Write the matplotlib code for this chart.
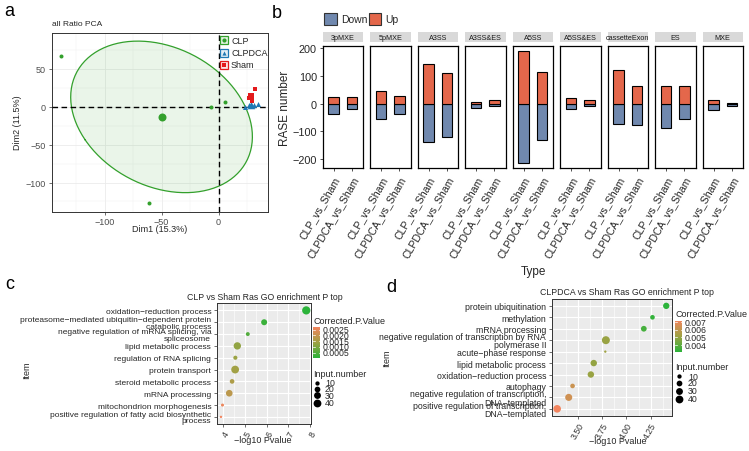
import numpy as np
import matplotlib
matplotlib.use("Agg")
import matplotlib.pyplot as plt
from matplotlib.patches import Rectangle, Polygon
from matplotlib.colors import LinearSegmentedColormap, Normalize
from matplotlib.ticker import FixedLocator

plt.rcParams['font.family'] = ['Liberation Sans', 'DejaVu Sans']

# ---------------- data ----------------
# Panel a: PCA
pca_groups = ["CLP", "CLPDCA", "Sham"]
clp_dim1 = [-138.0, -61.0, -6.4, 5.3]
clp_dim2 = [67.7, -127.5, 0.4, 6.2]
clpdca_dim1 = [23.0, 26.6, 31.0, 34.8]
clpdca_dim2 = [0.0, 2.2, 2.2, 3.5]
sham_dim1 = [31.9, 27.8, 26.6, 29.0]
sham_dim2 = [24.0, 15.4, 11.0, 8.0]
pca_xlabel = "Dim1 (15.3%)"
pca_ylabel = "Dim2 (11.5%)"

# Panel b: RASE numbers
ase_types = ["3pMXE", "5pMXE", "A3SS", "A3SS&ES", "A5SS", "A5SS&ES",
             "cassetteExon", "ES", "MXE"]
comparisons = ["CLP_vs_Sham", "CLPDCA_vs_Sham"]
up_clp = [23, 46, 144, 7, 189, 19, 120, 63, 14]
down_clp = [-39, -57, -137, -14, -213, -19, -75, -87, -24]
up_clpdca = [23, 29, 111, 14, 116, 12, 63, 63, 4]
down_clpdca = [-21, -39, -122, -7, -130, -10, -77, -54, -7]

# Panel c: CLP vs Sham GO
go_c_terms = ["oxidation\u2212reduction process",
              "proteasome\u2212mediated ubiquitin\u2212dependent protein\ncatabolic process",
              "negative regulation of mRNA splicing, via\nspliceosome",
              "lipid metabolic process",
              "regulation of RNA splicing",
              "protein transport",
              "steroid metabolic process",
              "mRNA processing",
              "mitochondrion morphogenesis",
              "positive regulation of fatty acid biosynthetic\nprocess"]
go_c_logp = [7.82, 5.89, 5.14, 4.66, 4.57, 4.56, 4.42, 4.29, 3.98, 3.91]
go_c_padj = [0.00002, 0.0002, 0.0005, 0.0012, 0.0013, 0.0014, 0.0016, 0.0018, 0.0026, 0.0027]
go_c_count = [45, 22, 8, 35, 9, 40, 12, 28, 4, 2]
go_c_xticks = [4, 5, 6, 7, 8]
go_c_cbar_ticks = [0.0005, 0.0010, 0.0015, 0.0020, 0.0025]

# Panel d: CLPDCA vs Sham GO
go_d_terms = ["protein ubiquitination",
              "methylation",
              "mRNA processing",
              "negative regulation of transcription by RNA\npolymerase II",
              "acute\u2212phase response",
              "lipid metabolic process",
              "oxidation\u2212reduction process",
              "autophagy",
              "negative regulation of transcription,\nDNA\u2212templated",
              "positive regulation of transcription,\nDNA\u2212templated"]
go_d_logp = [4.413, 4.27, 4.18, 3.786, 3.78, 3.66, 3.63, 3.44, 3.40, 3.28]
go_d_padj = [0.00304, 0.0032, 0.0035, 0.0050, 0.0051, 0.0049, 0.0050, 0.0062, 0.0063, 0.00721]
go_d_count = [25, 12, 20, 42, 2, 26, 26, 12, 32, 38]
go_d_xticks = [3.50, 3.75, 4.00, 4.25]
go_d_cbar_ticks = [0.004, 0.005, 0.006, 0.007]

size_breaks = [10, 20, 30, 40]

# ---------------- styles ----------------
W, H = 749, 452
col_clp, col_dca, col_sham = "#33A02C", "#1F78B4", "#E31A1C"
col_down, col_up = "#7088AE", "#E4674B"
go_cmap = LinearSegmentedColormap.from_list("go", ["#2BB33A", "#A0A244", "#F2845E"])
txt_dark = "#262626"

fig = plt.figure(figsize=(W / 100, H / 100), dpi=100)


def axpx(l, t, r, b, **kw):
    return fig.add_axes([l / W, 1 - b / H, (r - l) / W, (b - t) / H], **kw)


ov = fig.add_axes([0, 0, 1, 1], zorder=20)
ov.set_xlim(0, W)
ov.set_ylim(H, 0)
ov.axis('off')


def pt(px):
    return (np.asarray(px) * 0.72) ** 2


def expand(vals, f=0.05):
    lo, hi = min(vals), max(vals)
    p = (hi - lo) * f
    return lo - p, hi + p


# ---------------- panel letters ----------------
for lab, (x, y) in zip("abcd", [(9, 11), (277, 14), (10, 285), (391, 288)]):
    ov.text(x, y, lab, fontsize=13, ha='center', va='center', color='black')

# ---------------- panel a ----------------
axa = axpx(51.5, 34, 268, 212.5)
pts = np.array([clp_dim1, clp_dim2]).T
cen = pts.mean(axis=0)
cov = np.cov(pts.T)
vals, vecs = np.linalg.eigh(cov)
k = 1.22
tt = np.linspace(0, 2 * np.pi, 200)
circ = np.stack([np.cos(tt), np.sin(tt)])
ell = (vecs @ (np.sqrt(vals)[:, None] * k * circ)).T + cen
axa.add_patch(Polygon(ell, closed=True, facecolor=col_clp, alpha=0.10, edgecolor='none', zorder=1))
axa.plot(ell[:, 0], ell[:, 1], color=col_clp, lw=0.9, zorder=2)

all_x = clp_dim1 + clpdca_dim1 + sham_dim1 + list(ell[:, 0])
all_y = clp_dim2 + clpdca_dim2 + sham_dim2 + list(ell[:, 1])
axa.set_xlim(*expand(all_x))
axa.set_ylim(*expand(all_y))
axa.set_xticks([-100, -50, 0])
axa.set_yticks([-100, -50, 0, 50])
axa.xaxis.set_minor_locator(FixedLocator([-125, -75, -25, 25]))
axa.yaxis.set_minor_locator(FixedLocator([-125, -75, -25, 25, 75]))
axa.grid(which='major', color='#EBEBEB', lw=0.6)
axa.grid(which='minor', color='#F2F2F2', lw=0.35)
axa.set_axisbelow(True)
axa.tick_params(which='minor', length=0)
axa.tick_params(which='major', labelsize=6.5, labelcolor='#4D4D4D', length=2.5,
                width=0.5, color='#333333', pad=1.5)
for s in axa.spines.values():
    s.set_color('#333333')
    s.set_linewidth(0.7)
axa.axhline(0, color='black', ls=(0, (4, 2.5)), lw=1.0, zorder=3)
axa.axvline(0, color='black', ls=(0, (4, 2.5)), lw=1.0, zorder=3)

axa.scatter(clp_dim1, clp_dim2, s=pt(4), color=col_clp, lw=0, zorder=4)
axa.scatter([cen[0]], [cen[1]], s=pt(8), color=col_clp, lw=0, zorder=4)
axa.scatter(clpdca_dim1, clpdca_dim2, s=pt(5), marker='^', color=col_dca, lw=0, zorder=5)
axa.scatter([np.mean(clpdca_dim1)], [np.mean(clpdca_dim2)], s=pt(7.5), marker='^',
            color=col_dca, lw=0, zorder=5)
axa.scatter(sham_dim1, sham_dim2, s=pt(4.5), marker='s', color=col_sham, lw=0, zorder=6)
axa.scatter([np.mean(sham_dim1)], [np.mean(sham_dim2)], s=pt(6.5), marker='s',
            color=col_sham, lw=0, zorder=6)

ov.text(52, 24, "all Ratio PCA", fontsize=6, ha='left', va='center', color=txt_dark)
ov.text(160, 230, pca_xlabel, fontsize=6.5, ha='center', va='center', color=txt_dark)
ov.text(18, 123, pca_ylabel, fontsize=6.5, ha='center', va='center', rotation=90, color=txt_dark)

for i, (g, c, m) in enumerate(zip(pca_groups, [col_clp, col_dca, col_sham], ['o', '^', 's'])):
    yc = 41.3 + i * 12.3
    ov.add_patch(Rectangle((220, yc - 4), 8.3, 8, facecolor='white', edgecolor=c, lw=0.9))
    ov.add_patch(Rectangle((220, yc - 4), 8.3, 8, facecolor=c, alpha=0.12, edgecolor='none'))
    ov.scatter([224.2], [yc], s=pt(4.2), marker=m, color=c, lw=0)
    ov.text(231, yc, g, fontsize=6.5, ha='left', va='center', color=txt_dark)

# ---------------- panel b ----------------
b_left0, b_step, b_w, b_top, b_bot = 322.5, 47.5, 40.5, 46.7, 169.3
bvals = up_clp + down_clp + up_clpdca + down_clpdca
bylim = expand(bvals)
for i, t in enumerate(ase_types):
    l = b_left0 + i * b_step
    ax = axpx(l, b_top, l + b_w, b_bot)
    xs = [1, 2]
    ax.bar(xs, [down_clp[i], down_clpdca[i]], width=0.57, color=col_down,
           edgecolor='black', lw=0.8)
    ax.bar(xs, [up_clp[i], up_clpdca[i]], width=0.57, color=col_up,
           edgecolor='black', lw=0.8)
    ax.set_xlim(0.4, 2.6)
    ax.set_ylim(*bylim)
    ax.set_xticks(xs)
    ax.set_xticklabels(comparisons, rotation=60, ha='right', va='top',
                       rotation_mode='anchor', fontsize=7.6, color=txt_dark)
    ax.tick_params(axis='x', length=2.5, width=0.6, color='#333333', pad=2)
    if i == 0:
        ax.set_yticks([-200, -100, 0, 100, 200])
        ax.tick_params(axis='y', labelsize=7.8, labelcolor=txt_dark, length=2.5,
                       width=0.6, color='#333333', pad=1.5)
    else:
        ax.set_yticks([])
    for s in ax.spines.values():
        s.set_color('black')
        s.set_linewidth(0.9)
    ov.add_patch(Rectangle((l, 33.3), b_w, 10, facecolor='#D9D9D9', edgecolor='none'))
    ov.text(l + b_w / 2, 38.4, t, fontsize=5.2, ha='center', va='center', color='#1A1A1A')

ov.text(285, 108, "RASE number", fontsize=8.5, rotation=90, ha='center', va='center', color=txt_dark)
ov.text(533, 272, "Type", fontsize=8.5, ha='center', va='center', color=txt_dark)
ov.add_patch(Rectangle((324, 14.3), 12.5, 11.4, facecolor=col_down, edgecolor='#333333', lw=0.8))
ov.text(341.5, 20.3, "Down", fontsize=7.5, ha='left', va='center', color=txt_dark)
ov.add_patch(Rectangle((369.3, 14.3), 11.4, 11.4, facecolor=col_up, edgecolor='#333333', lw=0.8))
ov.text(385, 20.3, "Up", fontsize=7.5, ha='left', va='center', color=txt_dark)


# ---------------- panels c, d ----------------
def size_px(n):
    return 0.8 + 1.107 * np.sqrt(np.asarray(n, dtype=float))


def go_panel(box, terms, logp, padj, count, xticks, xfmt, minor, title, title_xy,
             item_fs, item_xy, xlab_xy, cbar_box, cbar_ticks, cbar_fmt,
             ctitle_xy, stitle_xy, circ_x, circ_ys, lab_x):
    l, t, r, b = box
    ax = axpx(l, t, r, b)
    ax.set_facecolor('#EBEBEB')
    n = len(terms)
    ypos = np.arange(n, 0, -1)
    norm = Normalize(min(padj), max(padj))
    ax.scatter(logp, ypos, s=pt(size_px(count)), c=padj, cmap=go_cmap, norm=norm,
               lw=0, zorder=3)
    ax.set_xlim(*expand(logp))
    ax.set_ylim(0.4, n + 0.6)
    ax.set_xticks(xticks)
    ax.set_xticklabels([xfmt % v for v in xticks], rotation=60, ha='right', va='top',
                       rotation_mode='anchor', fontsize=6.3, color='#333333')
    ax.xaxis.set_minor_locator(FixedLocator(minor))
    ax.set_yticks(ypos)
    ax.set_yticklabels(terms, fontsize=item_fs, color='#262626', linespacing=0.9)
    ax.grid(which='major', color='white', lw=0.8)
    ax.grid(which='minor', axis='x', color='white', lw=0.4)
    ax.set_axisbelow(True)
    ax.tick_params(which='minor', length=0)
    ax.tick_params(which='major', length=2.5, width=0.5, color='#333333', pad=1.5)
    for s in ax.spines.values():
        s.set_color('#333333')
        s.set_linewidth(0.7)
    ov.text(title_xy[0], title_xy[1], title, fontsize=6.3, ha='center', va='center', color=txt_dark)
    ov.text(item_xy[0], item_xy[1], "Item", fontsize=6.5, rotation=90, ha='center', va='center',
            color=txt_dark)
    ov.text(xlab_xy[0], xlab_xy[1], "\u2212log10 Pvalue", fontsize=6.5, ha='center',
            va='center', color=txt_dark)
    # colour bar
    cl, ct, cr, cb = cbar_box
    cax = axpx(cl, ct, cr, cb)
    cax.imshow(np.linspace(1, 0, 256)[:, None], aspect='auto', cmap=go_cmap,
               extent=[0, 1, 0, 1])
    cax.axis('off')
    ov.text(ctitle_xy[0], ctitle_xy[1], "Corrected.P.Value", fontsize=6.5, ha='left',
            va='center', color=txt_dark)
    for v in cbar_ticks:
        yy = cb - (v - norm.vmin) / (norm.vmax - norm.vmin) * (cb - ct)
        ov.plot([cl, cl + 1.5], [yy, yy], color='white', lw=0.5)
        ov.plot([cr - 1.5, cr], [yy, yy], color='white', lw=0.5)
        ov.text(cr + 3, yy, cbar_fmt % v, fontsize=6.3, ha='left', va='center', color=txt_dark)
    # size legend
    ov.text(stitle_xy[0], stitle_xy[1], "Input.number", fontsize=6.5, ha='left',
            va='center', color=txt_dark)
    for sb, yy in zip(size_breaks, circ_ys):
        ov.scatter([circ_x], [yy], s=pt(size_px(sb)), color='black', lw=0)
        ov.text(lab_x, yy, str(sb), fontsize=6.3, ha='left', va='center', color=txt_dark)


go_panel((216.7, 304.3, 310.5, 425), go_c_terms, go_c_logp, go_c_padj, go_c_count,
         go_c_xticks, "%d", [4.5, 5.5, 6.5, 7.5],
         "CLP vs Sham Ras GO enrichment P top", (265, 297.5), 6.0, (26.7, 370),
         (263, 441), (313, 328.3, 320, 359.3), go_c_cbar_ticks, "%.4f",
         (313.3, 322), (313.3, 374.3), 316.7, [384, 389.7, 396.3, 404], 325)

go_panel((551.7, 300, 671.7, 416.7), go_d_terms, go_d_logp, go_d_padj, go_d_count,
         go_d_xticks, "%.2f", [3.375, 3.625, 3.875, 4.125, 4.375],
         "CLPDCA vs Sham Ras GO enrichment P top", (626.7, 292.7), 6.3, (386.7, 358),
         (618, 441.7), (675, 321.7, 682, 353.3), go_d_cbar_ticks, "%.3f",
         (675, 315), (675, 367.7), 679.3, [377.3, 384, 391.7, 400], 688)

fig.savefig("out.png", dpi=100)
